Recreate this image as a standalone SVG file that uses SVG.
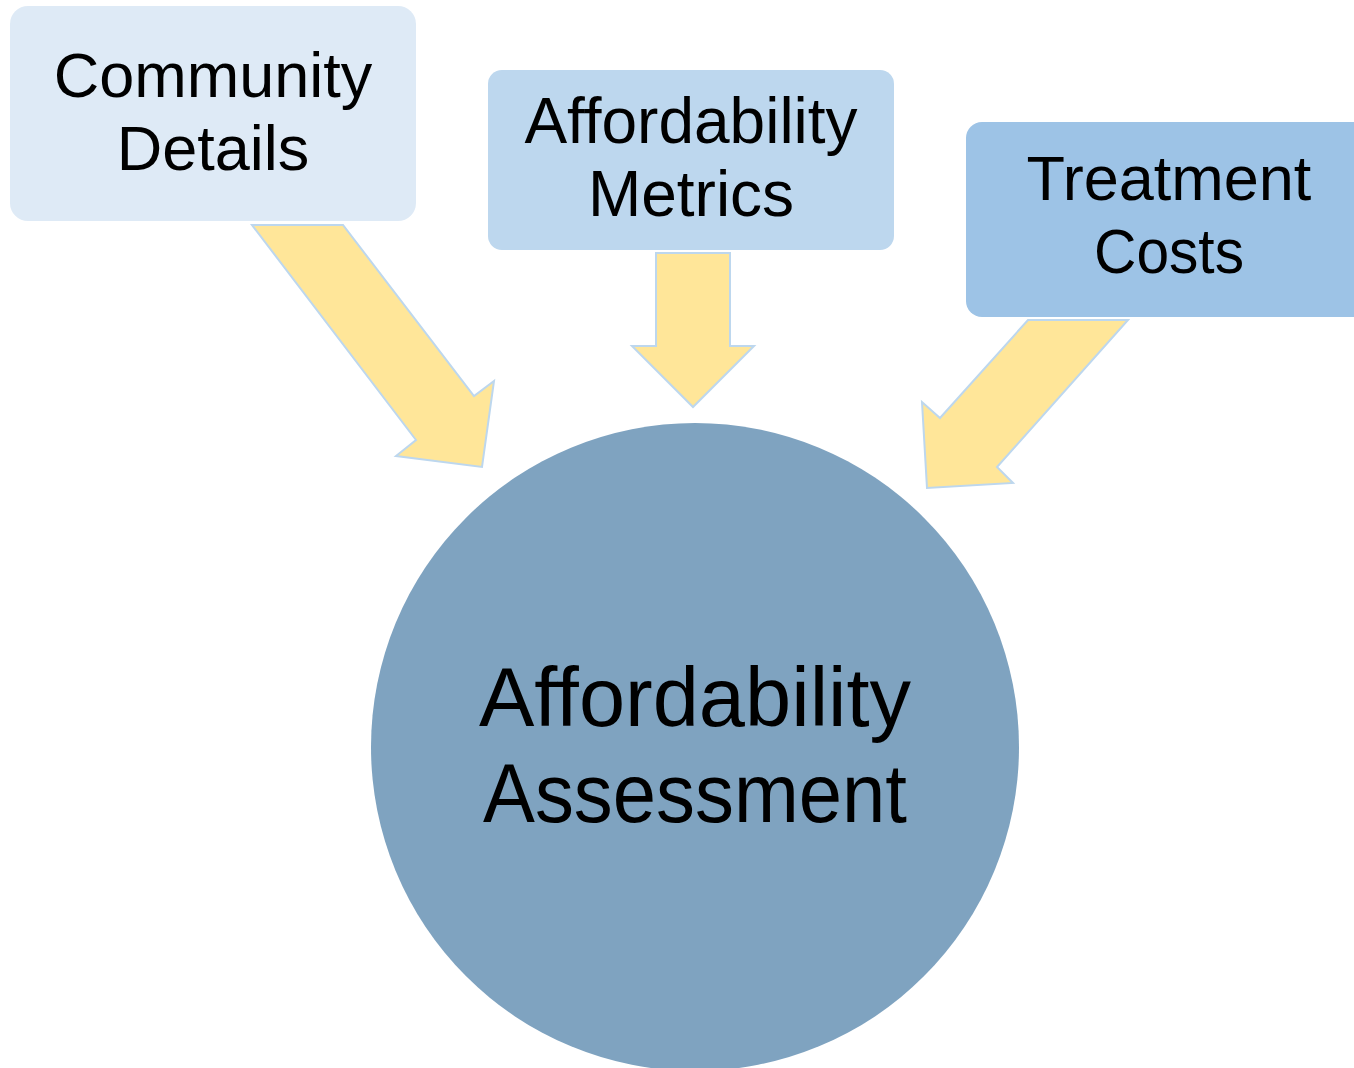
<svg xmlns="http://www.w3.org/2000/svg" width="1354" height="1068" viewBox="0 0 1354 1068">
<style>
.lbl{font-family:"Liberation Sans",Arial,sans-serif;fill:#000;text-anchor:middle}
.arrow{fill:#FFE699;stroke:#BDD7EE;stroke-width:2;stroke-linejoin:miter}
</style>
<rect width="1354" height="1068" fill="#fff"/>
<g id="connectors">
<polygon class="arrow" points="252,225 343,225 474,396 494,381 482,467 396,456 416,440"/>
<polygon class="arrow" points="656,253 730,253 730,346 754,346 693,407 632,346 656,346"/>
<polygon class="arrow" points="1028,320 1128,320 997,467 1013,483 927,488 922,402 940,418"/>
</g>
<g id="node-community">
<rect x="10" y="6" width="406" height="215" rx="18" fill="#DEEAF6"/>
<text class="lbl" x="213" y="97" font-size="63">Community</text>
<text class="lbl" x="213" y="170" font-size="63">Details</text>
</g>
<g id="node-metrics">
<rect x="488" y="70" width="406" height="180" rx="14" fill="#BDD7EE"/>
<text class="lbl" x="691" y="143" font-size="64">Affordability</text>
<text class="lbl" x="691" y="216" font-size="64">Metrics</text>
</g>
<g id="node-costs">
<rect x="966" y="122" width="410" height="195" rx="16" fill="#9DC3E6"/>
<text class="lbl" x="1169" y="200" font-size="63">Treatment</text>
<text class="lbl" x="1169" y="273" font-size="63" textLength="150" lengthAdjust="spacingAndGlyphs">Costs</text>
</g>
<g id="node-assessment">
<circle cx="695" cy="747" r="324" fill="#7FA3C0"/>
<text class="lbl" x="695" y="726" font-size="83">Affordability</text>
<text class="lbl" x="695" y="822" font-size="83" textLength="424" lengthAdjust="spacingAndGlyphs">Assessment</text>
</g>
</svg>
